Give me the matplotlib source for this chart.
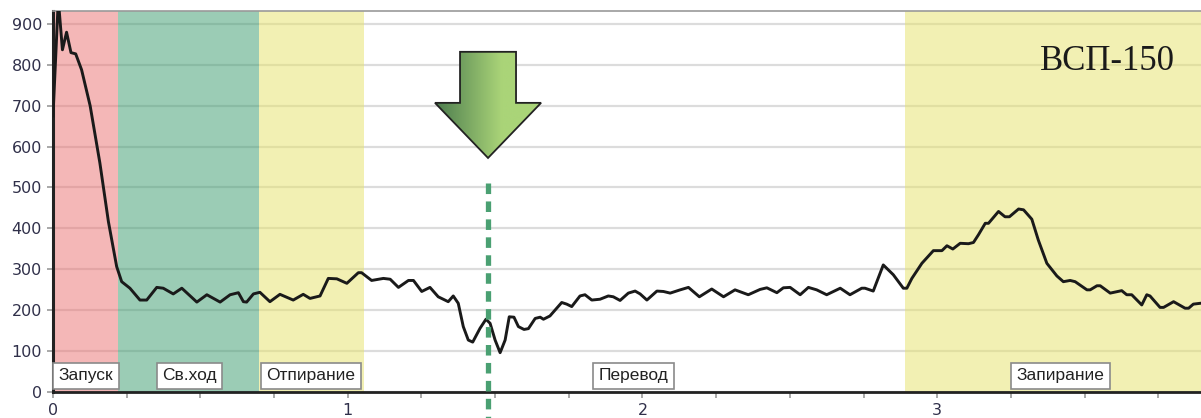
import matplotlib
matplotlib.use('Agg')
import matplotlib.pyplot as plt
import numpy as np
from matplotlib.patches import Polygon
from matplotlib.ticker import MultipleLocator

plt.rcParams['font.family'] = ['DejaVu Sans']

# Current trace of the point machine, time in seconds
TIME = [0.000, 0.018, 0.032, 0.046, 0.061, 0.077, 0.097, 0.126, 0.159, 0.188,
        0.216, 0.233, 0.261, 0.295, 0.318, 0.352, 0.374, 0.408, 0.437, 0.488,
        0.522, 0.567, 0.601, 0.629, 0.646, 0.657, 0.680, 0.702, 0.736, 0.770,
        0.815, 0.849, 0.872, 0.906, 0.934, 0.963, 0.997, 1.036, 1.047, 1.081,
        1.121, 1.144, 1.172, 1.206, 1.223, 1.251, 1.279, 1.307, 1.341, 1.358,
        1.375, 1.392, 1.409, 1.424, 1.449, 1.469, 1.483, 1.500, 1.517, 1.534,
        1.548, 1.564, 1.579, 1.598, 1.613, 1.636, 1.653, 1.664, 1.686, 1.726,
        1.743, 1.760, 1.788, 1.805, 1.828, 1.856, 1.884, 1.901, 1.924, 1.952,
        1.975, 1.992, 2.015, 2.049, 2.071, 2.094, 2.128, 2.156, 2.193, 2.235,
        2.275, 2.314, 2.359, 2.399, 2.422, 2.456, 2.478, 2.501, 2.535, 2.563,
        2.591, 2.625, 2.671, 2.704, 2.744, 2.755, 2.783, 2.817, 2.851, 2.885,
        2.897, 2.914, 2.948, 2.987, 3.016, 3.033, 3.053, 3.078, 3.106, 3.123,
        3.140, 3.163, 3.174, 3.208, 3.230, 3.245, 3.276, 3.293, 3.321, 3.343,
        3.372, 3.406, 3.428, 3.451, 3.468, 3.508, 3.519, 3.542, 3.553, 3.587,
        3.626, 3.643, 3.660, 3.694, 3.711, 3.722, 3.756, 3.768, 3.802, 3.841,
        3.853, 3.869, 3.892]
CURRENT = [675, 960, 837, 880, 830, 827, 788, 700, 560, 416,
           306, 269, 253, 224, 224, 255, 253, 239, 253, 219,
           237, 219, 237, 242, 220, 219, 239, 243, 220, 238,
           224, 238, 228, 234, 277, 276, 265, 291, 291, 272,
           277, 275, 255, 272, 272, 245, 255, 232, 220, 234,
           216, 159, 126, 121, 155, 177, 167, 126, 95, 126,
           183, 182, 159, 152, 154, 179, 182, 177, 185, 218,
           214, 208, 234, 237, 224, 226, 234, 232, 223, 241,
           246, 239, 224, 246, 245, 241, 249, 255, 232, 251,
           232, 249, 237, 250, 254, 242, 254, 255, 237, 255,
           249, 237, 253, 237, 253, 253, 246, 310, 286, 253,
           253, 277, 314, 345, 345, 357, 349, 363, 362, 365,
           384, 412, 412, 441, 428, 428, 447, 445, 422, 371,
           314, 283, 269, 272, 269, 249, 249, 259, 259, 241,
           247, 237, 237, 212, 237, 234, 206, 206, 220, 204,
           204, 214, 216]

# Operating phases
PHASES = ['Запуск', 'Св.ход', 'Отпирание', 'Перевод', 'Запирание']
PHASE_START = [0.0, 0.22, 0.70, 1.055, 2.89]
PHASE_END = [0.22, 0.70, 1.055, 2.89, 3.90]
PHASE_LABEL_X = [0.112, 0.463, 0.875, 1.97, 3.419]
PHASE_COLORS = ['#EA7070', '#399B6D', '#E7E369', None, '#E7E369']

MARK_T = 1.476
TITLE = 'ВСП-150'

TICK_COL = '#30304a'

fig = plt.figure(figsize=(12.01, 4.18), dpi=100)
ax = fig.add_axes([53 / 1201, 26.5 / 418, 1 - 53 / 1201, 380.5 / 418])
ax.set_xlim(0, 3.895)
ax.set_ylim(0, 932)

# grid first, bands on top so the lines tint through
ax.set_axisbelow(True)
ax.yaxis.grid(True, color='#dcdcdc', linewidth=1.6)
for start, end, col in zip(PHASE_START, PHASE_END, PHASE_COLORS):
    if col:
        ax.axvspan(start, end, color=col, alpha=0.5, linewidth=0, zorder=1)

ax.plot(TIME, CURRENT, color='#1a1a1a', linewidth=2.1, zorder=4)

for name, x in zip(PHASES, PHASE_LABEL_X):
    ax.text(x, 39, name, ha='center', va='center', fontsize=12.5,
            family='Liberation Sans', color='#222222', zorder=6,
            bbox=dict(boxstyle='square,pad=0.32', facecolor='white',
                      edgecolor='#8a8a8a', linewidth=1.2))

# marker line running down past the axis
ax.plot([MARK_T, MARK_T], [511, -65], color='#4aa072', linewidth=3.8,
        dashes=(2.0, 1.4), clip_on=False, zorder=7, solid_capstyle='butt',
        dash_capstyle='butt')

# gradient arrow pointing at the marker
arrow_xy = [(1.381, 832), (1.571, 832), (1.571, 707), (1.656, 707),
            (MARK_T, 572), (1.296, 707), (1.381, 707)]
arrow = Polygon(arrow_xy, closed=True, facecolor='none', edgecolor='#222222',
                linewidth=1.3, zorder=9)
ax.add_patch(arrow)
dark = np.array([0x4c, 0x7c, 0x4e]) / 255
light = np.array([0xaa, 0xd4, 0x78]) / 255
t = np.clip(np.linspace(0, 1, 200) * 1.6, 0, 1)
grad = dark[None, :] * (1 - t[:, None]) + light[None, :] * t[:, None]
img = ax.imshow(grad[None, :, :], extent=(1.296, 1.656, 572, 832),
                aspect='auto', zorder=8, interpolation='bilinear')
img.set_clip_path(arrow)
ax.set_xlim(0, 3.895)
ax.set_ylim(0, 932)

ax.text(3.577, 808, TITLE, ha='center', va='center', fontsize=25,
        family='Liberation Serif', color='#1a1a1a', zorder=6)

ax.yaxis.set_major_locator(MultipleLocator(100))
ax.xaxis.set_major_locator(MultipleLocator(1))
ax.xaxis.set_minor_locator(MultipleLocator(0.25))
ax.tick_params(axis='both', which='both', color='#999999', length=4.5,
               width=1.2, labelsize=11.5, labelcolor=TICK_COL, pad=3.5)

ax.spines['left'].set_color('#222222')
ax.spines['left'].set_linewidth(2.2)
ax.spines['bottom'].set_color('#222222')
ax.spines['bottom'].set_linewidth(2.0)
ax.spines['top'].set_color('#9a9a9a')
ax.spines['top'].set_linewidth(1.2)
ax.spines['right'].set_visible(False)

fig.savefig('out.png', dpi=100)
